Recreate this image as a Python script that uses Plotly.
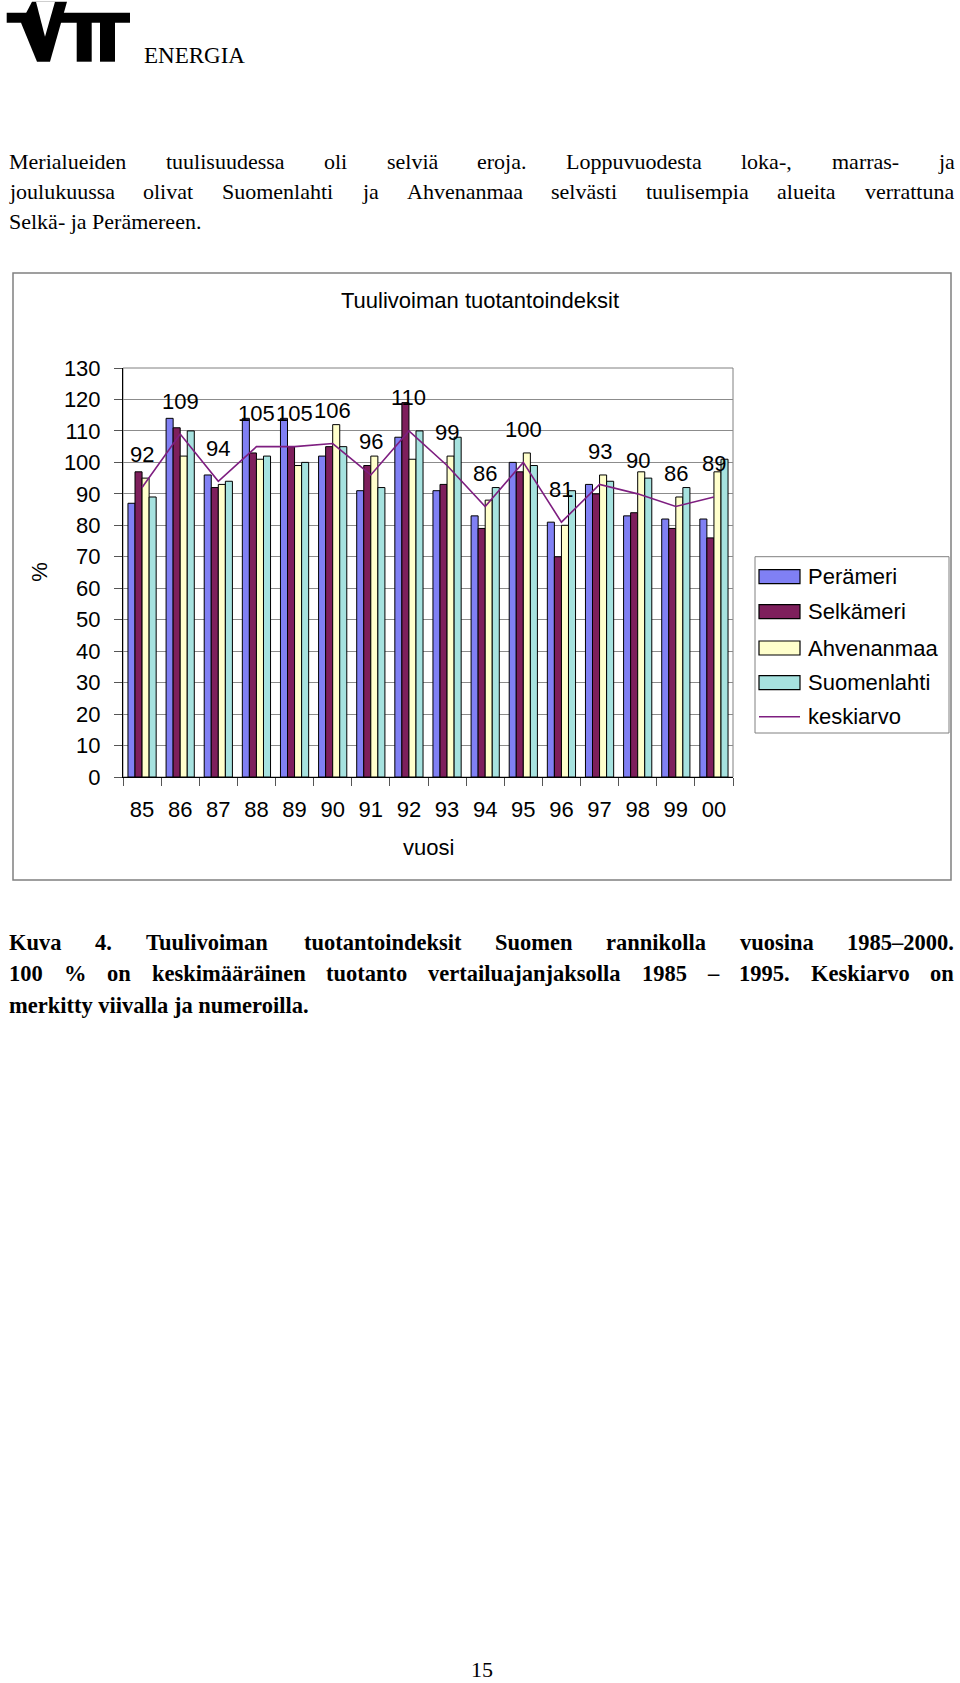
import plotly.graph_objects as go

# ---------------- data ----------------
years = ["85", "86", "87", "88", "89", "90", "91", "92", "93", "94", "95", "96", "97", "98", "99", "00"]
peramari = [87, 114, 96, 114, 114, 102, 91, 108, 91, 83, 100, 81, 93, 83, 82, 82]
selkameri = [97, 111, 92, 103, 105, 105, 99, 119, 93, 79, 97, 70, 90, 84, 79, 76]
ahvenanmaa = [95, 102, 93, 101, 99, 112, 102, 101, 102, 88, 103, 80, 96, 97, 89, 97]
suomenlahti = [89, 110, 94, 102, 100, 105, 92, 110, 108, 92, 99, 91, 94, 95, 92, 101]
keskiarvo = [92, 109, 94, 105, 105, 106, 96, 110, 99, 86, 100, 81, 93, 90, 86, 89]
y_ticks = list(range(0, 131, 10))

series_names = ["Perämeri", "Selkämeri", "Ahvenanmaa", "Suomenlahti"]
series_values = [peramari, selkameri, ahvenanmaa, suomenlahti]
series_colors = ["#8080F4", "#7E1F5C", "#FFFFCC", "#A6E2DF"]
line_name = "keskiarvo"
line_color = "#7E1E80"

para_lines = [
    "Merialueiden tuulisuudessa oli selviä eroja. Loppuvuodesta loka-, marras- ja",
    "joulukuussa olivat Suomenlahti ja Ahvenanmaa selvästi tuulisempia alueita verrattuna",
    "Selkä- ja Perämereen.",
]
caption_lines = [
    "Kuva 4. Tuulivoiman tuotantoindeksit Suomen rannikolla vuosina 1985–2000.",
    "100 % on keskimääräinen tuotanto vertailuajanjaksolla 1985 – 1995. Keskiarvo on",
    "merkitty viivalla ja numeroilla.",
]

W, H = 960, 1683


def fx(x):
    return x / W


def fy(y):
    return 1 - y / H


# Times (Liberation Serif) advance widths, per 1000 em
TIMES = dict(zip("abcdefghijklmnopqrstuvwxyzä", [444, 500, 444, 500, 444, 333, 500, 500, 278, 278, 500, 278, 778, 500,
                                                  500, 500, 500, 333, 389, 278, 500, 500, 722, 500, 500, 444, 444]))
TIMES.update({"A": 722, "K": 722, "L": 611, "M": 889, "S": 556, "T": 611, "P": 556, "E": 611, "N": 722,
              "R": 667, "G": 722, "I": 333, ".": 250, ",": 250, "-": 333, "%": 833, "–": 500, " ": 250})
TIMES.update({d: 500 for d in "0123456789"})
TIMESB = dict(zip("abcdefghijklmnopqrstuvwxyzä", [500, 556, 444, 556, 444, 333, 500, 556, 278, 333, 556, 278, 833, 556,
                                                   500, 556, 556, 444, 389, 333, 556, 500, 722, 500, 500, 444, 500]))
TIMESB.update({"K": 778, "S": 556, "T": 667, ".": 250, ",": 250, "-": 333, "%": 1000, "–": 500, " ": 250})
TIMESB.update({d: 500 for d in "0123456789"})


def text_width(s, size, bold):
    tbl = TIMESB if bold else TIMES
    return sum(tbl.get(c, 500) for c in s) * size / 1000.0


fig = go.Figure()
for name, vals, col in zip(series_names, series_values, series_colors):
    fig.add_trace(go.Bar(x=years, y=vals, name=name, marker_color=col,
                         marker_line_color="#000000", marker_line_width=1,
                         showlegend=False))
fig.add_trace(go.Scatter(x=years, y=keskiarvo, name=line_name, mode="lines",
                         line=dict(color=line_color, width=1.6), showlegend=False))

shapes = []
annotations = []

chart_font = dict(family="Liberation Sans", size=22, color="#000")

# data labels for the average line
for i, v in enumerate(keskiarvo):
    annotations.append(dict(x=i, y=v, xref="x", yref="y", text=str(v), showarrow=False,
                            yshift=33, font=chart_font))

# chart frame
shapes.append(dict(type="rect", xref="paper", yref="paper", x0=fx(13), x1=fx(951), y0=fy(880), y1=fy(273),
                   line=dict(color="#808080", width=1.5), layer="below"))
# plot area border
shapes.append(dict(type="rect", xref="paper", yref="paper", x0=fx(123), x1=fx(733), y0=fy(777), y1=fy(368),
                   line=dict(color="#808080", width=1), layer="below"))

annotations.append(dict(x=fx(480), y=fy(301), xref="paper", yref="paper", text="Tuulivoiman tuotantoindeksit",
                        showarrow=False, xanchor="center", yanchor="middle", font=chart_font))
annotations.append(dict(x=fx(428), y=fy(848), xref="paper", yref="paper", text="vuosi",
                        showarrow=False, xanchor="center", yanchor="middle", font=chart_font))
annotations.append(dict(x=fx(38.7), y=fy(572), xref="paper", yref="paper", text="%", textangle=-90,
                        showarrow=False, xanchor="center", yanchor="middle", font=chart_font))

# custom legend
shapes.append(dict(type="rect", xref="paper", yref="paper", x0=fx(755), x1=fx(949), y0=fy(733), y1=fy(556.7),
                   line=dict(color="#808080", width=1), fillcolor="#ffffff"))
row_y = [576.7, 611.7, 648, 682.7, 716.7]
for i, (name, col) in enumerate(zip(series_names, series_colors)):
    yc = row_y[i]
    shapes.append(dict(type="rect", xref="paper", yref="paper", x0=fx(759), x1=fx(800),
                       y0=fy(yc + 7), y1=fy(yc - 7), line=dict(color="#000", width=1.2), fillcolor=col))
    annotations.append(dict(x=fx(806), y=fy(yc), xref="paper", yref="paper", text=name, showarrow=False,
                            xanchor="left", yanchor="middle", font=chart_font))
shapes.append(dict(type="line", xref="paper", yref="paper", x0=fx(759), x1=fx(800), y0=fy(row_y[4]), y1=fy(row_y[4]),
                   line=dict(color=line_color, width=1.6)))
annotations.append(dict(x=fx(806), y=fy(row_y[4]), xref="paper", yref="paper", text=line_name, showarrow=False,
                        xanchor="left", yanchor="middle", font=chart_font))

# ---------------- page text ----------------
serif = "Liberation Serif"


def put_text(text, x, yc, size, bold):
    t = "<b>%s</b>" % text if bold else text
    annotations.append(dict(x=fx(x), y=fy(yc), xref="paper", yref="paper", text=t, showarrow=False,
                            xanchor="left", yanchor="middle", font=dict(family=serif, size=size, color="#000")))


def justified(line, yc, size, bold, x0=7.3, x1=952.0):
    words = line.split(" ")
    widths = [text_width(w, size, bold) for w in words]
    gap = (x1 - x0 - sum(widths)) / (len(words) - 1)
    x = x0
    for w, wd in zip(words, widths):
        put_text(w, x, yc, size, bold)
        x += wd + gap


# header logo
def poly(pts):
    return "M " + " L ".join("%f,%f" % (fx(x), fy(y)) for x, y in pts) + " Z"


logo_black = [
    [(6.7, 12.7), (130, 12.7), (130, 22.7), (6.7, 22.7)],
    [(21, 22.7), (32, 1.7), (67, 1.7), (50, 61.7), (37, 61.7)],
    [(76.7, 22), (91.7, 22), (91.7, 61.7), (76.7, 61.7)],
    [(100, 22), (115, 22), (115, 61.7), (100, 61.7)],
]
for p in logo_black:
    shapes.append(dict(type="path", xref="paper", yref="paper", path=poly(p), fillcolor="#000", line=dict(width=0)))
shapes.append(dict(type="path", xref="paper", yref="paper", path=poly([(36, 1.7), (55, 1.7), (45, 36.7)]),
                   fillcolor="#fff", line=dict(width=0)))
put_text("ENERGIA", 141.7, 55.2, 23, False)

# paragraph (justified)
para_y = [162, 192, 222]
justified(para_lines[0], para_y[0], 22, False)
justified(para_lines[1], para_y[1], 22, False)
put_text(para_lines[2], 7.3, para_y[2], 22, False)

# caption (justified, bold)
cap_y = [943, 973.5, 1005]
justified(caption_lines[0], cap_y[0], 22.5, True)
justified(caption_lines[1], cap_y[1], 22.5, True)
put_text(caption_lines[2], 7.3, cap_y[2], 22.5, True)

# page number
annotations.append(dict(x=fx(482), y=fy(1669), xref="paper", yref="paper", text="15", showarrow=False,
                        xanchor="center", yanchor="middle", font=dict(family=serif, size=22, color="#000")))

fig.update_layout(
    template="none",
    width=W, height=H, autosize=False,
    margin=dict(l=0, r=0, t=0, b=0, pad=0, autoexpand=False),
    paper_bgcolor="#ffffff", plot_bgcolor="#ffffff",
    barmode="group", bargap=0.26, bargroupgap=0,
    showlegend=False,
    shapes=shapes, annotations=annotations,
    xaxis=dict(domain=[fx(123), fx(733)], type="category", categoryorder="array", categoryarray=years,
               range=[-0.5, len(years) - 0.5], dtick=1, automargin=False, tickangle=0,
               showline=True, linecolor="#000", linewidth=1, ticks="outside", tickson="boundaries",
               ticklen=8, tickcolor="#555", tickwidth=1, showgrid=False, zeroline=False,
               tickfont=chart_font, ticklabelstandoff=13),
    yaxis=dict(domain=[fy(777), fy(368)], range=[0, 130], tickvals=y_ticks, automargin=False,
               showline=True, linecolor="#000", linewidth=1, ticks="outside", ticklen=8,
               tickcolor="#555", tickwidth=1, showgrid=True, gridcolor="#8c8c8c", gridwidth=1,
               zeroline=False, tickfont=chart_font, ticklabelstandoff=9),
)

fig.write_html("out.html", config={"displayModeBar": False},
               post_script="document.body.style.margin='0px';")
